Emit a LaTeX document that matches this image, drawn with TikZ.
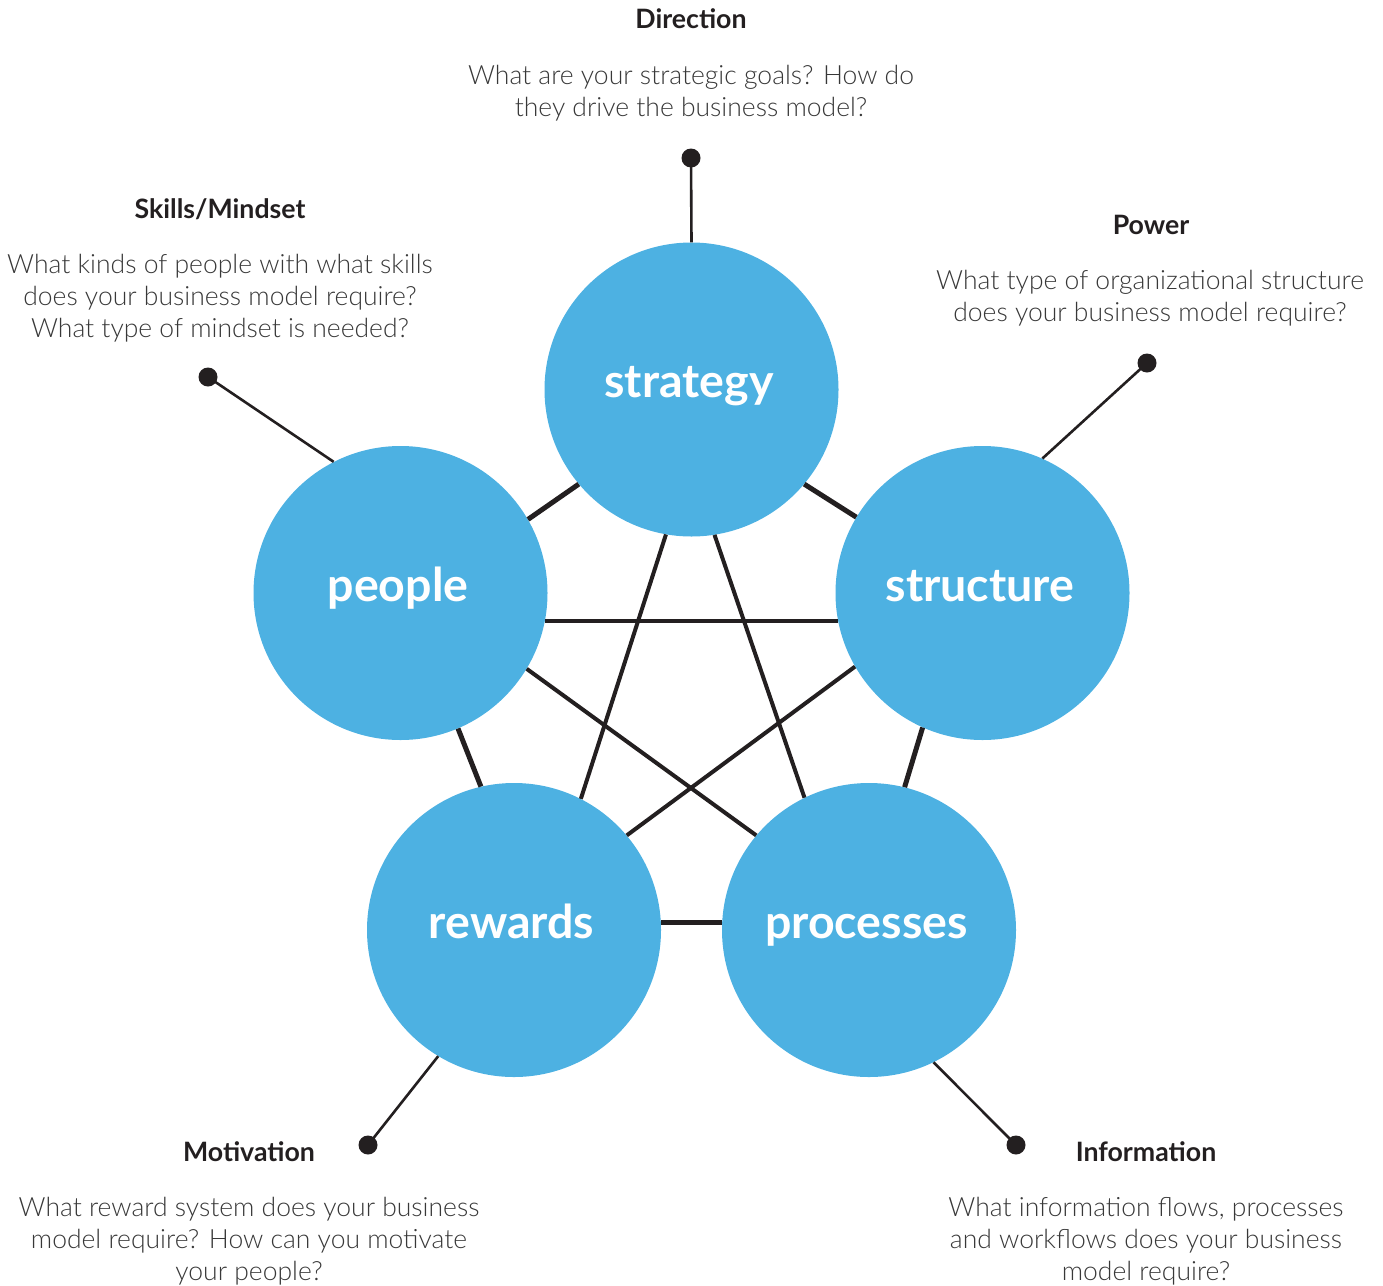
\documentclass[tikz,border=0pt]{standalone}
\usepackage{fontspec}
\setmainfont{Lato}[UprightFont={* Light},BoldFont={* Bold}]
\definecolor{cblue}{HTML}{4DB1E2}
\definecolor{cline}{HTML}{231F20}
\definecolor{ctext}{HTML}{383838}
\begin{document}
\begin{tikzpicture}[x=1pt,y=-1pt,
  hub/.style={circle,fill=cblue,minimum size=294pt,inner sep=0pt,text=white,
    font=\bfseries\fontsize{46.5}{46.5}\selectfont,text height=16pt,text depth=0pt,
    execute at end node={\hspace*{5pt}}},
  edgeln/.style={draw=cline,line width=5pt},
  starln/.style={draw=cline,line width=4pt},
  callln/.style={draw=cline,line width=2.6pt},
  dotnode/.style={circle,fill=cline,minimum size=19pt,inner sep=0pt},
  ttl/.style={font=\bfseries\fontsize{26.7}{32}\selectfont,text=cline,anchor=base,inner sep=0pt},
  body/.style={font=\fontsize{26.5}{32}\selectfont,text=ctext,align=center,anchor=base,inner sep=0pt}]
\useasboundingbox (0,0) rectangle (1383,1285);
% hubs
\node[hub] (strategy)   at (691.5,389.5) {strategy};
\node[hub] (people)     at (400.5,593)   {people};
\node[hub] (structure)  at (982.5,593)   {structure};
\node[hub] (rewards)    at (514,930)     {rewards};
\node[hub] (processes)  at (869,930)     {processes};
% pentagon edges
\draw[edgeln] (strategy.220.3) -- (people.30);
\draw[edgeln] (strategy.320.2) -- (structure.149.8);
\draw[edgeln] (people.293.1) -- (rewards.103.7);
\draw[edgeln] (structure.246.2) -- (processes.76.3);
\draw[edgeln] (rewards.3.9) -- (rewards.3.9 -| processes.176.1);
% star
\draw[starln] (people.-11.3) -- (structure.191.3);
\draw[starln] (strategy.260.8) -- (rewards.63.1);
\draw[starln] (strategy.279.2) -- (processes.116.9);
\draw[starln] (people.-31.1) -- (processes.140);
\draw[starln] (structure.210.9) -- (rewards.40.3);
% callout dots
\node[dotnode] (dDir)  at (691,158) {};
\node[dotnode] (dPow)  at (1147,363) {};
\node[dotnode] (dSki)  at (208,377) {};
\node[dotnode] (dMot)  at (368,1145) {};
\node[dotnode] (dInf)  at (1016,1145) {};
\draw[callln] (strategy.90) -- (dDir.center);
\draw[callln] (structure.66.8) -- (dPow.center);
\draw[callln] (people.117.4) -- (dSki.center);
\draw[callln] (rewards.239.6) -- (dMot.center);
\draw[callln] (processes.296.9) -- (dInf.center);
% texts (body nodes anchored at the baseline of their last line)
\node[ttl] (tDir) at (691,28) {Direction};
\node[body] (bDir) at (691,116) {What are your strategic goals? How do\\they drive the business model?};
\node[ttl] (tSki) at (220,218) {Skills/Mindset};
\node[body] (bSki) at (220,337) {What kinds of people with what skills\\does your business model require?\\What type of mindset is needed?};
\node[ttl] (tPow) at (1151,234) {Power};
\node[body] (bPow) at (1150,321) {What type of organizational structure\\does your business model require?};
\node[ttl] (tMot) at (249,1161) {Motivation};
\node[body] (bMot) at (249,1280) {What reward system does your business\\model require? How can you motivate\\your people?};
\node[ttl] (tInf) at (1146,1161) {Information};
\node[body] (bInf) at (1146,1280) {What information flows, processes\\and workflows does your business\\model require?};
\end{tikzpicture}
\end{document}
